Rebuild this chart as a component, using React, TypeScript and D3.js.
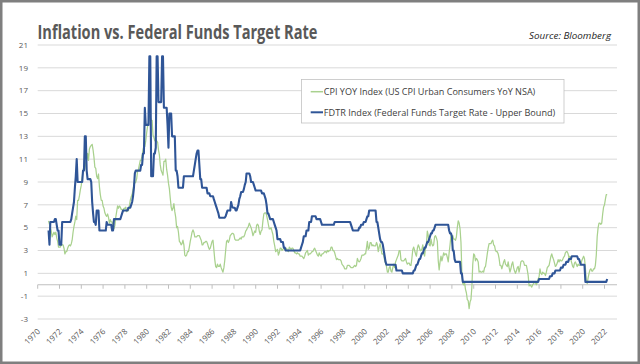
import React, { useEffect, useRef } from 'react';
import * as d3 from 'd3';

// Monthly (month-end) values, first point = Dec 1970, last point = Mar 2022
const cpiYoy: number[] = [
  5.6, // Dec 1970
  5.3, 5.0, 4.7, 4.2, 4.4, 4.6, 4.4, 4.6, 4.1, 3.8, 3.3, 3.3, // 1971
  3.3, 3.5, 3.5, 3.5, 3.2, 2.7, 2.9, 2.9, 3.2, 3.4, 3.5, 3.4, // 1972
  3.6, 3.9, 4.6, 5.1, 5.5, 6.0, 5.7, 7.4, 7.4, 7.8, 8.3, 8.7, // 1973
  9.4, 10.0, 10.4, 10.1, 10.7, 10.9, 11.5, 10.9, 11.9, 12.1, 12.2, 12.3, // 1974
  11.8, 11.2, 10.3, 10.2, 9.5, 9.3, 9.7, 8.6, 7.9, 7.4, 7.4, 6.9, // 1975
  6.7, 6.3, 6.1, 6.0, 6.2, 5.9, 5.4, 5.7, 5.5, 5.5, 4.9, 4.9, // 1976
  5.2, 5.9, 6.4, 6.9, 6.7, 6.9, 6.8, 6.6, 6.6, 6.4, 6.7, 6.7, // 1977
  6.8, 6.4, 6.6, 6.5, 6.9, 7.4, 7.7, 7.9, 8.3, 8.9, 8.9, 9.0, // 1978
  9.3, 9.9, 10.1, 10.5, 10.9, 10.9, 11.3, 11.8, 12.2, 12.1, 12.6, 13.3, // 1979
  13.9, 14.2, 14.8, 14.7, 14.4, 14.4, 13.1, 12.9, 12.6, 12.8, 12.6, 12.5, // 1980
  11.8, 11.4, 10.5, 10.0, 9.8, 9.6, 10.8, 10.8, 11.0, 10.1, 9.6, 8.9, // 1981
  8.4, 7.6, 6.8, 6.5, 6.7, 7.1, 6.4, 5.9, 5.0, 5.1, 4.6, 3.8, // 1982
  3.7, 3.5, 3.6, 3.9, 3.5, 2.6, 2.5, 2.6, 2.9, 2.9, 3.3, 3.8, // 1983
  4.2, 4.6, 4.8, 4.6, 4.2, 4.2, 4.2, 4.3, 4.3, 4.3, 4.1, 3.9, // 1984
  3.5, 3.5, 3.7, 3.7, 3.8, 3.8, 3.6, 3.3, 3.1, 3.2, 3.5, 3.8, // 1985
  3.9, 3.1, 2.2, 1.6, 1.5, 1.8, 1.6, 1.6, 1.8, 1.5, 1.3, 1.1, // 1986
  1.5, 2.1, 3.0, 3.8, 3.9, 3.7, 3.9, 4.3, 4.4, 4.5, 4.5, 4.4, // 1987
  4.0, 3.9, 3.9, 3.9, 3.9, 4.0, 4.1, 4.0, 4.2, 4.2, 4.2, 4.4, // 1988
  4.7, 4.8, 5.0, 5.1, 5.4, 5.2, 5.0, 4.7, 4.3, 4.5, 4.7, 4.6, // 1989
  5.2, 5.3, 5.2, 4.7, 4.4, 4.7, 4.8, 5.6, 6.2, 6.3, 6.3, 6.1, // 1990
  5.7, 5.3, 4.9, 4.9, 5.0, 4.7, 4.4, 3.8, 3.4, 2.9, 3.0, 3.1, // 1991
  2.6, 2.8, 3.2, 3.2, 3.0, 3.1, 3.2, 3.1, 3.0, 3.2, 3.0, 2.9, // 1992
  3.3, 3.2, 3.1, 3.2, 3.2, 3.0, 2.8, 2.8, 2.7, 2.8, 2.7, 2.7, // 1993
  2.5, 2.5, 2.5, 2.4, 2.3, 2.5, 2.8, 2.9, 3.0, 2.6, 2.7, 2.7, // 1994
  2.8, 2.9, 2.9, 3.1, 3.2, 3.0, 2.8, 2.6, 2.5, 2.8, 2.6, 2.5, // 1995
  2.7, 2.7, 2.8, 2.9, 2.9, 2.8, 3.0, 2.9, 3.0, 3.0, 3.3, 3.3, // 1996
  3.0, 3.0, 2.8, 2.5, 2.2, 2.3, 2.2, 2.2, 2.2, 2.1, 1.8, 1.7, // 1997
  1.6, 1.4, 1.4, 1.4, 1.7, 1.7, 1.7, 1.6, 1.5, 1.5, 1.5, 1.6, // 1998
  1.7, 1.6, 1.7, 2.3, 2.1, 2.0, 2.1, 2.3, 2.6, 2.6, 2.6, 2.7, // 1999
  2.7, 3.2, 3.8, 3.1, 3.2, 3.7, 3.7, 3.4, 3.5, 3.4, 3.4, 3.4, // 2000
  3.7, 3.5, 2.9, 3.3, 3.6, 3.2, 2.7, 2.7, 2.6, 2.1, 1.9, 1.6, // 2001
  1.1, 1.1, 1.5, 1.6, 1.2, 1.1, 1.5, 1.8, 1.5, 2.0, 2.2, 2.4, // 2002
  2.6, 3.0, 3.0, 2.2, 2.1, 2.1, 2.1, 2.2, 2.3, 2.0, 1.8, 1.9, // 2003
  1.9, 1.7, 1.7, 2.3, 3.1, 3.3, 3.0, 2.7, 2.5, 3.2, 3.5, 3.3, // 2004
  3.0, 3.0, 3.1, 3.5, 2.8, 2.5, 3.2, 3.6, 4.7, 4.3, 3.5, 3.4, // 2005
  4.0, 3.6, 3.4, 3.5, 4.2, 4.3, 4.1, 3.8, 2.1, 1.3, 2.0, 2.5, // 2006
  2.1, 2.4, 2.8, 2.6, 2.7, 2.7, 2.4, 2.0, 2.8, 3.5, 4.3, 4.1, // 2007
  4.3, 4.0, 4.0, 3.9, 4.2, 5.0, 5.6, 5.4, 4.9, 3.7, 1.1, 0.1, // 2008
  0.0, 0.2, -0.4, -0.7, -1.3, -1.4, -2.1, -1.5, -1.3, -0.2, 1.8, 2.7, // 2009
  2.6, 2.1, 2.3, 2.2, 2.0, 1.1, 1.2, 1.1, 1.1, 1.2, 1.1, 1.5, // 2010
  1.6, 2.1, 2.7, 3.2, 3.6, 3.6, 3.6, 3.8, 3.9, 3.5, 3.4, 3.0, // 2011
  2.9, 2.9, 2.7, 2.3, 1.7, 1.7, 1.4, 1.7, 2.0, 2.2, 1.8, 1.7, // 2012
  1.6, 2.0, 1.5, 1.1, 1.4, 1.8, 2.0, 1.5, 1.2, 1.0, 1.2, 1.5, // 2013
  1.6, 1.1, 1.5, 2.0, 2.1, 2.1, 2.0, 1.7, 1.7, 1.7, 1.3, 0.8, // 2014
  -0.1, 0.0, -0.1, -0.2, 0.0, 0.1, 0.2, 0.2, 0.0, 0.2, 0.5, 0.7, // 2015
  1.4, 1.0, 0.9, 1.1, 1.0, 1.0, 0.8, 1.1, 1.5, 1.6, 1.7, 2.1, // 2016
  2.5, 2.7, 2.4, 2.2, 1.9, 1.6, 1.7, 1.9, 2.2, 2.0, 2.2, 2.1, // 2017
  2.1, 2.2, 2.4, 2.5, 2.8, 2.9, 2.9, 2.7, 2.3, 2.5, 2.2, 1.9, // 2018
  1.6, 1.5, 1.9, 2.0, 1.8, 1.6, 1.8, 1.7, 1.7, 1.8, 2.1, 2.3, // 2019
  2.5, 2.3, 1.5, 0.3, 0.1, 0.6, 1.0, 1.3, 1.4, 1.2, 1.2, 1.4, // 2020
  1.4, 1.7, 2.6, 4.2, 5.0, 5.4, 5.4, 5.3, 5.4, 6.2, 6.8, 7.0, // 2021
  7.5, 7.9, 7.9, // 2022
];

const fdtrUpper: number[] = [
  4.75, // Dec 1970
  3.5, 5.5, 5.5, 5.5, 5.5, 5.5, 5.75, 5.75, 5.25, 4.75, 4.75, 3.5, // 1971
  3.5, 3.5, 5.5, 5.5, 5.5, 5.5, 5.5, 5.5, 5.5, 5.5, 5.5, 5.5, // 1972
  5.75, 6.25, 6.75, 7.25, 8.5, 9.5, 11.0, 9.0, 9.0, 9.0, 9.0, 9.0, // 1973
  9.0, 10.0, 10.0, 13.0, 13.0, 10.0, 9.25, 9.25, 9.25, 9.25, 9.0, 7.25, // 1974
  6.25, 5.5, 5.5, 5.25, 6.5, 6.5, 6.5, 4.75, 4.75, 4.75, 4.75, 4.75, // 1975
  4.75, 4.75, 4.75, 5.5, 5.25, 5.25, 5.25, 5.25, 5.25, 4.75, 4.75, 5.75, // 1976
  5.75, 5.75, 5.75, 5.75, 5.75, 5.75, 5.75, 6.0, 6.25, 6.5, 6.5, 6.5, // 1977
  6.5, 6.5, 6.5, 6.75, 6.75, 6.75, 7.0, 7.25, 7.75, 8.5, 9.75, 10.0, // 1978
  10.0, 10.0, 10.0, 10.0, 10.0, 10.5, 10.5, 11.5, 11.5, 15.5, 14.0, 14.0, // 1979
  14.0, 14.0, 20.0, 20.0, 9.5, 9.5, 9.5, 11.5, 11.5, 12.0, 20.0, 20.0, // 1980
  16.0, 16.0, 16.0, 16.0, 20.0, 20.0, 15.5, 15.5, 15.5, 15.5, 14.0, 12.0, // 1981
  15.0, 15.0, 15.0, 13.0, 13.0, 13.0, 13.0, 10.0, 10.0, 9.5, 8.5, 8.5, // 1982
  8.5, 8.5, 8.5, 8.5, 9.5, 9.5, 9.5, 9.5, 9.5, 9.5, 9.5, 9.5, // 1983
  9.5, 9.5, 9.5, 10.0, 10.5, 11.0, 11.5, 11.75, 11.75, 10.5, 9.25, 9.25, // 1984
  8.5, 8.5, 8.5, 8.5, 8.5, 8.5, 8.0, 8.0, 8.0, 7.75, 7.75, 7.75, // 1985
  7.75, 7.5, 7.25, 7.0, 6.75, 6.5, 6.25, 5.875, 5.875, 5.875, 5.875, 5.875, // 1986
  5.875, 5.875, 6.0, 6.25, 6.5, 6.5, 6.5, 6.5, 7.25, 6.875, 6.75, 6.75, // 1987
  6.75, 6.5, 6.5, 6.75, 7.0, 7.5, 7.75, 8.125, 8.125, 8.125, 8.375, 8.75, // 1988
  9.0, 9.75, 9.75, 9.75, 9.75, 9.5, 9.0, 9.0, 9.0, 8.75, 8.5, 8.25, // 1989
  8.25, 8.25, 8.25, 8.25, 8.25, 8.25, 8.0, 8.0, 8.0, 7.75, 7.5, 7.0, // 1990
  6.25, 6.25, 6.0, 5.75, 5.75, 5.75, 5.75, 5.5, 5.25, 5.0, 4.75, 4.0, // 1991
  4.0, 4.0, 4.0, 3.75, 3.75, 3.75, 3.25, 3.25, 3.0, 3.0, 3.0, 3.0, // 1992
  3.0, 3.0, 3.0, 3.0, 3.0, 3.0, 3.0, 3.0, 3.0, 3.0, 3.0, 3.0, // 1993
  3.0, 3.25, 3.5, 3.75, 4.25, 4.25, 4.25, 4.75, 4.75, 4.75, 5.5, 5.5, // 1994
  5.5, 6.0, 6.0, 6.0, 6.0, 6.0, 5.75, 5.75, 5.75, 5.75, 5.75, 5.5, // 1995
  5.25, 5.25, 5.25, 5.25, 5.25, 5.25, 5.25, 5.25, 5.25, 5.25, 5.25, 5.25, // 1996
  5.25, 5.25, 5.5, 5.5, 5.5, 5.5, 5.5, 5.5, 5.5, 5.5, 5.5, 5.5, // 1997
  5.5, 5.5, 5.5, 5.5, 5.5, 5.5, 5.5, 5.5, 5.25, 5.0, 4.75, 4.75, // 1998
  4.75, 4.75, 4.75, 4.75, 4.75, 5.0, 5.0, 5.25, 5.25, 5.25, 5.5, 5.5, // 1999
  5.5, 5.75, 6.0, 6.0, 6.5, 6.5, 6.5, 6.5, 6.5, 6.5, 6.5, 6.5, // 2000
  5.5, 5.5, 5.0, 4.5, 4.0, 3.75, 3.75, 3.5, 3.0, 2.5, 2.0, 1.75, // 2001
  1.75, 1.75, 1.75, 1.75, 1.75, 1.75, 1.75, 1.75, 1.75, 1.75, 1.25, 1.25, // 2002
  1.25, 1.25, 1.25, 1.25, 1.25, 1.0, 1.0, 1.0, 1.0, 1.0, 1.0, 1.0, // 2003
  1.0, 1.0, 1.0, 1.0, 1.0, 1.25, 1.25, 1.5, 1.75, 1.75, 2.0, 2.25, // 2004
  2.25, 2.5, 2.75, 2.75, 3.0, 3.25, 3.25, 3.5, 3.75, 3.75, 4.0, 4.25, // 2005
  4.5, 4.5, 4.75, 4.75, 5.0, 5.25, 5.25, 5.25, 5.25, 5.25, 5.25, 5.25, // 2006
  5.25, 5.25, 5.25, 5.25, 5.25, 5.25, 5.25, 5.25, 4.75, 4.5, 4.5, 4.25, // 2007
  3.0, 3.0, 2.25, 2.0, 2.0, 2.0, 2.0, 2.0, 2.0, 1.0, 1.0, 0.25, // 2008
  0.25, 0.25, 0.25, 0.25, 0.25, 0.25, 0.25, 0.25, 0.25, 0.25, 0.25, 0.25, // 2009
  0.25, 0.25, 0.25, 0.25, 0.25, 0.25, 0.25, 0.25, 0.25, 0.25, 0.25, 0.25, // 2010
  0.25, 0.25, 0.25, 0.25, 0.25, 0.25, 0.25, 0.25, 0.25, 0.25, 0.25, 0.25, // 2011
  0.25, 0.25, 0.25, 0.25, 0.25, 0.25, 0.25, 0.25, 0.25, 0.25, 0.25, 0.25, // 2012
  0.25, 0.25, 0.25, 0.25, 0.25, 0.25, 0.25, 0.25, 0.25, 0.25, 0.25, 0.25, // 2013
  0.25, 0.25, 0.25, 0.25, 0.25, 0.25, 0.25, 0.25, 0.25, 0.25, 0.25, 0.25, // 2014
  0.25, 0.25, 0.25, 0.25, 0.25, 0.25, 0.25, 0.25, 0.25, 0.25, 0.25, 0.5, // 2015
  0.5, 0.5, 0.5, 0.5, 0.5, 0.5, 0.5, 0.5, 0.5, 0.5, 0.5, 0.75, // 2016
  0.75, 0.75, 1.0, 1.0, 1.0, 1.25, 1.25, 1.25, 1.25, 1.25, 1.25, 1.5, // 2017
  1.5, 1.5, 1.75, 1.75, 1.75, 2.0, 2.0, 2.0, 2.25, 2.25, 2.25, 2.5, // 2018
  2.5, 2.5, 2.5, 2.5, 2.5, 2.5, 2.25, 2.25, 2.0, 1.75, 1.75, 1.75, // 2019
  1.75, 1.75, 0.25, 0.25, 0.25, 0.25, 0.25, 0.25, 0.25, 0.25, 0.25, 0.25, // 2020
  0.25, 0.25, 0.25, 0.25, 0.25, 0.25, 0.25, 0.25, 0.25, 0.25, 0.25, 0.25, // 2021
  0.25, 0.25, 0.5, // 2022
];

const yTicks = [-3, -1, 1, 3, 5, 7, 9, 11, 13, 15, 17, 19, 21];
const xTickYears = [
  1970, 1972, 1974, 1976, 1978, 1980, 1982, 1984, 1986, 1988, 1990, 1992, 1994,
  1996, 1998, 2000, 2002, 2004, 2006, 2008, 2010, 2012, 2014, 2016, 2018, 2020, 2022,
];
const seriesNames = [
  'CPI YOY Index (US CPI Urban Consumers YoY NSA)',
  'FDTR Index (Federal Funds Target Rate - Upper Bound)',
];
const seriesColors = ['#a9d18e', '#2f5597'];

const W = 640;
const H = 364;

export default function App() {
  const svgRef = useRef<SVGSVGElement>(null);

  useEffect(() => {
    if (!svgRef.current) return;
    const svg = d3.select(svgRef.current);
    svg.selectAll('*').remove();

    // month-end dates, index 0 = 31 Dec 1970
    const dates = cpiYoy.map((_, i) => new Date(1971, i, 0));

    const x = d3.scaleTime()
      .domain([new Date(1970, 0, 1), new Date(2023, 1, 23)])
      .range([37.7, 617]);
    const y = d3.scaleLinear().domain([-3, 21]).range([319, 45]);

    // background + frame
    svg.append('rect')
      .attr('x', 1.25).attr('y', 1.25)
      .attr('width', W - 2.5).attr('height', H - 2.5)
      .attr('fill', '#fff')
      .attr('stroke', '#7f7f7f')
      .attr('stroke-width', 2.5);

    // title
    svg.append('text')
      .attr('x', 37.5).attr('y', 38.5)
      .attr('font-family', '"Open Sans", sans-serif')
      .attr('font-weight', 700)
      .attr('font-size', 19)
      .attr('fill', '#595959')
      .attr('textLength', 280)
      .attr('lengthAdjust', 'spacingAndGlyphs')
      .text('Inflation vs. Federal Funds Target Rate');

    svg.append('text')
      .attr('x', 529).attr('y', 38.5)
      .attr('font-family', '"Open Sans", sans-serif')
      .attr('font-style', 'italic')
      .attr('font-size', 9.5)
      .attr('fill', '#262626')
      .attr('textLength', 82)
      .attr('lengthAdjust', 'spacingAndGlyphs')
      .text('Source:  Bloomberg');

    // gridlines + y labels
    yTicks.forEach(t => {
      svg.append('line')
        .attr('x1', 37.7).attr('x2', 617)
        .attr('y1', y(t)).attr('y2', y(t))
        .attr('stroke', '#d9d9d9')
        .attr('stroke-width', 1);
      svg.append('text')
        .attr('x', 28).attr('y', y(t))
        .attr('dy', '0.35em')
        .attr('text-anchor', 'end')
        .attr('font-family', '"Open Sans", sans-serif')
        .attr('font-size', 8)
        .attr('fill', '#595959')
        .text(t.toString());
    });

    // horizontal axis at zero, with ticks
    svg.append('line')
      .attr('x1', 37.7).attr('x2', 617)
      .attr('y1', y(0)).attr('y2', y(0))
      .attr('stroke', '#bfbfbf')
      .attr('stroke-width', 1);

    xTickYears.forEach(yr => {
      const px = x(new Date(yr, 0, 1));
      svg.append('line')
        .attr('x1', px).attr('x2', px)
        .attr('y1', y(0)).attr('y2', y(0) + 4)
        .attr('stroke', '#bfbfbf')
        .attr('stroke-width', 1);
      svg.append('text')
        .attr('transform', `translate(${px + 3},${332}) rotate(-45)`)
        .attr('text-anchor', 'end')
        .attr('font-family', '"Open Sans", sans-serif')
        .attr('font-size', 8)
        .attr('fill', '#595959')
        .text(yr.toString());
    });

    // series
    const line = d3.line<number>()
      .x((_, i) => x(dates[i]))
      .y(d => y(d));

    [cpiYoy, fdtrUpper].forEach((values, k) => {
      svg.append('path')
        .datum(values)
        .attr('d', line)
        .attr('fill', 'none')
        .attr('stroke', seriesColors[k])
        .attr('stroke-width', k === 0 ? 1.25 : 2.1)
        .attr('stroke-linejoin', 'round');
    });

    // legend
    const lg = svg.append('g');
    lg.append('rect')
      .attr('x', 301.5).attr('y', 79.5)
      .attr('width', 262.5).attr('height', 43.5)
      .attr('fill', '#fff')
      .attr('stroke', '#bfbfbf')
      .attr('stroke-width', 0.75);
    const legendWidths = [211.5, 231.5];
    seriesNames.forEach((name, k) => {
      const ly = 91.7 + k * 20.6;
      lg.append('line')
        .attr('x1', 310.7).attr('x2', 323)
        .attr('y1', ly).attr('y2', ly)
        .attr('stroke', seriesColors[k])
        .attr('stroke-width', k === 0 ? 1.5 : 2);
      lg.append('text')
        .attr('x', 323.8).attr('y', ly)
        .attr('dy', '0.35em')
        .attr('font-family', '"Open Sans", sans-serif')
        .attr('font-size', 9.5)
        .attr('fill', '#404040')
        .attr('textLength', legendWidths[k])
        .attr('lengthAdjust', 'spacingAndGlyphs')
        .text(name);
    });
  }, []);

  return (
    <div style={{ position: 'absolute', left: 0, top: 0 }}>
      <svg ref={svgRef} width={W} height={H} style={{ display: 'block' }} />
    </div>
  );
}
